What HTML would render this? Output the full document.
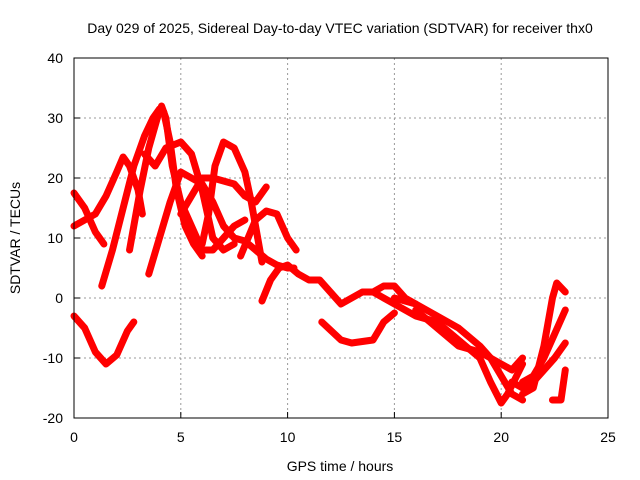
<!DOCTYPE html>
<html><head><meta charset="utf-8"><style>
body{margin:0;background:#fff}
svg{display:block;font-family:"Liberation Sans",sans-serif}
</style></head><body>
<svg id="chart" width="640" height="480">
<rect width="640" height="480" fill="#fff"/>
<text x="340" y="33" font-size="14" text-anchor="middle">Day 029 of 2025, Sidereal Day-to-day VTEC variation (SDTVAR) for receiver thx0</text>
<g id="grid"></g>
<g id="series"></g>
<rect x="74" y="58" width="534" height="360" fill="none" stroke="#000" stroke-width="1"/>
<g id="axes"></g>
<text x="340" y="471" font-size="14" text-anchor="middle">GPS time / hours</text>
<text x="20" y="238" font-size="14" text-anchor="middle" transform="rotate(-90 20 238)">SDTVAR / TECUs</text>
</svg>
<script>
const xTicks=[0,5,10,15,20,25];
const yTicks=[-20,-10,0,10,20,30,40];
const arcA=[[0,-3],[0.5,-5],[1,-9],[1.5,-11],[2,-9.5],[2.5,-5.5],[2.8,-4]];
const arcB=[[0,17.5],[0.5,15],[1,11],[1.4,9]];
const arcC=[[0,12],[0.5,13],[1,14],[1.5,17],[2,21],[2.3,23.5],[2.6,22],[3,18],[3.2,14]];
const arcD=[[1.3,2],[1.8,8],[2.3,15],[2.8,22],[3.3,27],[3.7,30],[4,31.5],[4.2,31],[4.5,26],[4.8,18],[5.2,12],[5.6,9],[6,7]];
const arcE=[[2.6,8],[2.8,12],[3.1,18],[3.5,25],[3.9,30],[4.1,32],[4.3,30],[4.6,22],[5,16],[5.5,12],[6,8],[6.5,8],[7,10],[7.5,12],[8,13]];
const arcF=[[3.5,4],[4,10],[4.5,16],[5,21],[5.5,20],[6,19],[6.5,16],[7,12],[7.5,10],[8,9.5],[8.5,8],[9,6.5],[9.5,5.5],[10,5],[10.3,5]];
const arcG=[[6,9],[6.3,14],[6.6,22],[7,26],[7.5,25],[8,21],[8.3,16],[8.6,10],[8.8,6]];
const arcH=[[3.3,24],[3.8,22],[4.3,25],[5,26],[5.5,24],[6,18],[6.5,10],[7,8],[7.5,9]];
const arcI=[[5,14],[5.5,17],[6,20],[6.5,20],[7,19.5],[7.5,19],[8,17],[8.5,16],[9,18.5]];
const arcJ=[[7.8,7],[8.5,13],[9,14.5],[9.5,14],[10,10],[10.4,8]];
const arcK=[[8.8,-0.5],[9.2,3],[9.6,5],[10,5.5],[10.5,4],[11,3],[11.5,3],[12,1],[12.5,-1],[13,0],[13.5,1],[14,1],[14.5,2],[15,2],[15.5,0],[16,-1]];
const arcL=[[11.6,-4],[12.5,-7],[13,-7.5],[14,-7],[14.5,-4],[15,-2.5]];
const arcM=[[15,0],[16,-1],[17,-3],[18,-5],[19,-8],[19.5,-10],[20,-13],[20.5,-16],[21,-17]];
const arcN=[[14,1],[15,-1],[16,-3],[17,-4],[18,-7],[19,-10],[19.5,-14],[20,-17.5],[20.3,-16],[21,-11]];
const arcO=[[21,-16],[21.5,-15],[22,-8],[22.4,0],[22.6,2.5],[23,1]];
const arcP=[[21,-14],[21.5,-13],[22,-10],[22.5,-6],[23,-2]];
const arcQ=[[22.4,-17],[22.8,-17],[23,-12]];
const arcR=[[16,-2],[17,-5],[18,-8],[19,-9],[20,-11],[20.5,-12],[21,-10]];
const arcS=[[20.5,-14],[21,-15],[21.5,-14],[22,-12],[22.5,-10],[23,-7.5]];
const allArcs=[arcA,arcB,arcC,arcD,arcE,arcF,arcG,arcH,arcI,arcJ,arcK,arcL,arcM,arcN,arcO,arcP,arcQ,arcR,arcS];
const NS='http://www.w3.org/2000/svg';
const X=h=>74+h*(534/25);
const Y=v=>418-(v+20)*6;
const grid=document.getElementById('grid'),axes=document.getElementById('axes'),ser=document.getElementById('series');
function mk(t,a,p){const e=document.createElementNS(NS,t);for(const k in a)e.setAttribute(k,a[k]);p.appendChild(e);return e;}
xTicks.forEach(t=>{
 if(t>0&&t<25){const g=mk('line',{x1:X(t),x2:X(t),y1:58,y2:418,stroke:'#999','stroke-dasharray':'2,3'},grid);
 
 }
 const l=mk('text',{x:X(t),y:442,'font-size':14,'text-anchor':'middle'},axes);l.textContent=t;
 
 
 mk('line',{x1:X(t),x2:X(t),y1:418,y2:412,stroke:'#000'},axes);
});
yTicks.forEach(t=>{
 if(t>-20&&t<40){const g=mk('line',{x1:74,x2:608,y1:Y(t),y2:Y(t),stroke:'#999','stroke-dasharray':'2,3'},grid);
 
 }
 const l=mk('text',{x:63,y:Y(t)+5,'font-size':14,'text-anchor':'end'},axes);l.textContent=t;
 
 
 mk('line',{x1:74,x2:80,y1:Y(t),y2:Y(t),stroke:'#000'},axes);
});
allArcs.forEach(arc=>{
 const p=mk('polyline',{points:arc.map(d=>X(d[0])+','+Y(d[1])).join(' '),fill:'none',stroke:'#f00','stroke-width':7,'stroke-linejoin':'round','stroke-linecap':'round'},ser);
 
 
});
</script>
</body></html>
